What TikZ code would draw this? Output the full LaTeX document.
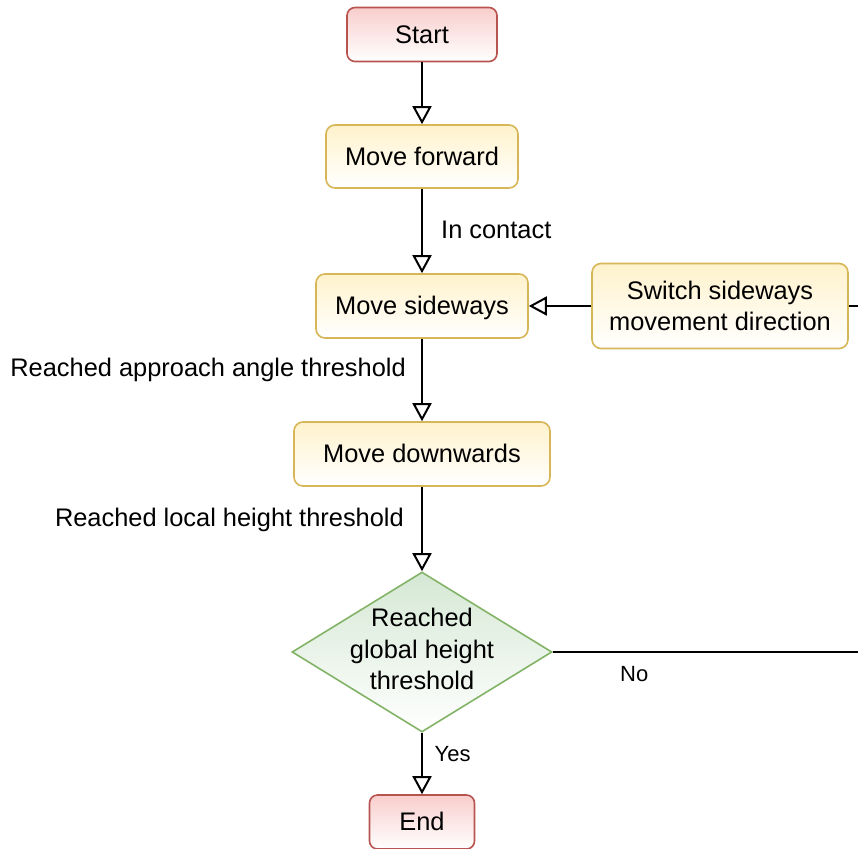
\documentclass[tikz,border=0pt]{standalone}
\usepackage{fontspec}
\setmainfont{Liberation Sans}
\usetikzlibrary{arrows.meta,shapes.geometric}
\definecolor{redfill}{HTML}{F8CECC}
\definecolor{redline}{HTML}{B85450}
\definecolor{yelfill}{HTML}{FFF2CC}
\definecolor{yelline}{HTML}{D6B656}
\definecolor{grnfill}{HTML}{D5E8D4}
\definecolor{grnline}{HTML}{82B366}
\tikzset{
  base/.style={inner sep=0pt, font=\fontsize{25.4}{31.7}\selectfont, align=center},
  oneline/.style={text height=18.5pt, text depth=1.3pt},
  term/.style={base, oneline, rectangle, rounded corners=8pt, draw=redline, line width=1.6pt,
    top color=redfill, bottom color=white},
  proc/.style={base, rectangle, rounded corners=9pt, draw=yelline, line width=1.6pt,
    top color=yelfill, bottom color=white},
  decision/.style={diamond, inner sep=0pt, draw=grnline, line width=1.6pt,
    top color=grnfill, bottom color=white, minimum width=260pt, minimum height=160pt},
  lbl/.style={inner sep=0pt, font=\fontsize{25.4}{31.7}\selectfont},
  smalllbl/.style={inner sep=0pt, font=\fontsize{22}{27}\selectfont},
  arr/.style={line width=2pt, -{Triangle[open, length=18pt, width=19pt, line width=2pt]}},
  plain/.style={line width=2pt}
}
\begin{document}
\begin{tikzpicture}[x=1pt, y=-1pt]
\useasboundingbox (0,0) rectangle (858,848);
\node[term, minimum width=150pt, minimum height=54pt] (start) at (422,34.5) {Start};
\node[proc, oneline, minimum width=192pt, minimum height=63pt] (fwd) at (422,156.5) {Move forward};
\node[proc, oneline, minimum width=212pt, minimum height=64pt] (side) at (422,306) {Move sideways};
\node[proc, minimum width=256pt, minimum height=85pt] (switch) at (720,306) {Switch sideways\\movement direction};
\node[proc, oneline, minimum width=256pt, minimum height=64pt] (down) at (422,454) {Move downwards};
\node[decision] (dec) at (422,652) {};
\node[base] (dectext) at (422,649) {Reached\\global height\\threshold};
\node[term, minimum width=105pt, minimum height=54pt] (end) at (422,822) {End};

\coordinate (rt1) at (858,306);
\coordinate (rt2) at (858,652);

\draw[arr] (start) -- (fwd);
\draw[arr] (fwd) -- (side);
\draw[arr] (side) -- (down);
\draw[arr] (down) -- (dec.north);
\draw[arr] (dec.south) -- (end);
\draw[arr] (switch) -- (side);
\draw[plain] (switch.east) -- (rt1);
\draw[plain] (dec.east) -- (rt2);

\node[lbl, anchor=base west] (lcontact) at (441,238.3) {In contact};
\node[lbl, anchor=base east] (lapproach) at (406,376.7) {Reached approach angle threshold};
\node[lbl, anchor=base east] (llocal) at (404,526.7) {Reached local height threshold};
\node[smalllbl, anchor=base west] (lno) at (620,681.7) {No};
\node[smalllbl, anchor=base west] (lyes) at (434.5,761.7) {Yes};
\end{tikzpicture}
\end{document}
